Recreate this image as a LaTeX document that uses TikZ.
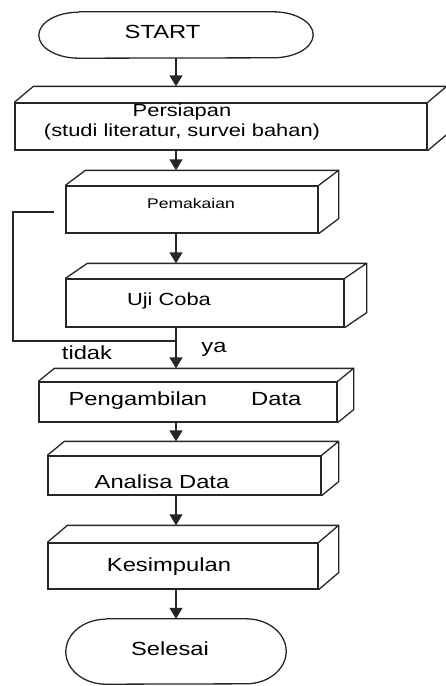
\documentclass[tikz,border=0pt]{standalone}
\usepackage{fontspec}
\setmainfont{Liberation Sans}[FakeStretch=1.25]
\usetikzlibrary{calc,arrows.meta}

\tikzset{
  garis/.style={line width=1.3pt, draw=black!85},
  kotak/.style={garis, rectangle, inner sep=0pt},
  ujung/.style={rectangle, inner sep=0pt},
  tulisan/.style={anchor=base, inner sep=0pt, font=\fontsize{19}{22}\selectfont},
  panah/.style={garis, -{Triangle[width=13pt,length=11pt]}},
}

\begin{document}
\begin{tikzpicture}[x=1pt, y=-1pt]
  \useasboundingbox (0,0) rectangle (446,686);

  % terminal dan blok proses
  \node[ujung, minimum width=274pt, minimum height=46pt] (start) at (176,35) {};
  \node[kotak, minimum width=412pt, minimum height=47pt] (persiapan) at (221,126.5) {};
  \node[kotak, minimum width=252pt, minimum height=47pt] (pemakaian) at (192,209.5) {};
  \node[kotak, minimum width=278pt, minimum height=48pt] (ujicoba) at (205,303) {};
  \node[kotak, minimum width=298pt, minimum height=40pt] (ambil) at (188,402) {};
  \node[kotak, minimum width=273pt, minimum height=39pt] (analisa) at (184.5,475.5) {};
  \node[kotak, minimum width=270pt, minimum height=46pt] (simpul) at (183,566) {};
  \node[ujung, minimum width=220pt, minimum height=65pt] (selesai) at (176,651.5) {};

  % sisi atas dan samping blok
  \foreach \n/\dx/\dy in {persiapan/19/16, pemakaian/20/15, ujicoba/22/15,
                          ambil/16/13, analisa/17/14, simpul/20/17}
    \draw[garis] (\n.north west) -- ++(\dx,-\dy) -| ($(\n.south east)+(\dx,-\dy)$)
      -- (\n.south east) (\n.north east) -- ++(\dx,-\dy);

  % ujung bulat
  \foreach \n/\rx/\ry in {start/40/23, selesai/40/32.5}
    \draw[garis] ([xshift=\rx pt]\n.north west) -- ([xshift=-\rx pt]\n.north east)
      arc[start angle=90, end angle=-90, x radius=\rx pt, y radius=\ry pt]
      -- ([xshift=\rx pt]\n.south west)
      arc[start angle=270, end angle=90, x radius=\rx pt, y radius=\ry pt];

  % tulisan
  \node[tulisan] (tStart) at (162.5,38.5) {START};
  \node[tulisan, align=center, font=\fontsize{17.5}{19.3}\selectfont] (tPersiapan) at (182,136)
    {Persiapan\\(studi literatur, survei bahan)};
  \node[tulisan, font=\fontsize{14}{16}\selectfont] (tPemakaian) at (191,208) {Pemakaian};
  \node[tulisan, font=\fontsize{17.5}{20}\selectfont] (tUji) at (169,305) {Uji Coba};
  \node[tulisan] (tAmbil) at (185,405) {Pengambilan\hspace{44pt}Data};
  \node[tulisan] (tAnalisa) at (162,488) {Analisa Data};
  \node[tulisan] (tSimpul) at (169,571.7) {Kesimpulan};
  \node[tulisan] (tSelesai) at (170,655.7) {Selesai};
  \node[tulisan] (ya) at (214,352) {ya};
  \node[tulisan] (tidak) at (87,359) {tidak};

  % alur
  \foreach \a/\b/\d in {start/persiapan/16, persiapan/pemakaian/15, pemakaian/ujicoba/15,
                        ujicoba/ambil/13, ambil/analisa/14, analisa/simpul/17, simpul/selesai/0}
    \draw[panah] (start.south |- \a.south) -- ($(start.south |- \b.north)+(0,-\d)$);

  % umpan balik
  \coordinate (balik) at (54,212);
  \coordinate (gabung) at (176,341);
  \draw[garis] (balik) -- ++(-41,0) |- (gabung);
\end{tikzpicture}
\end{document}
